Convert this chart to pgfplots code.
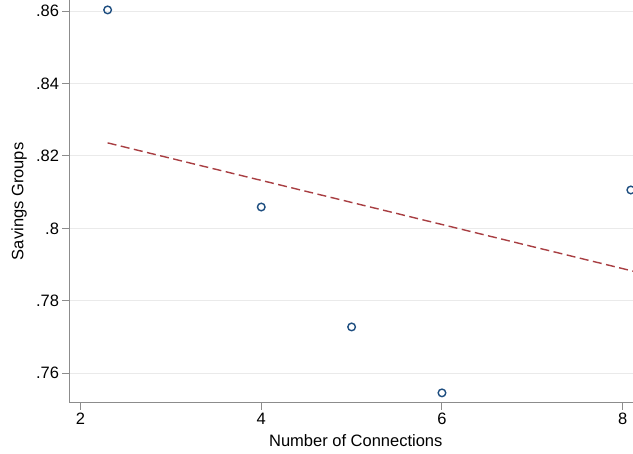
\documentclass[border=0pt]{standalone}
\usepackage{pgfplots}
\pgfplotsset{compat=1.18}
\usetikzlibrary{calc}
\usepackage{fontspec}
\setmainfont{Liberation Sans}
\definecolor{statanavy}{RGB}{30,78,128}
\definecolor{statamaroon}{RGB}{168,62,66}
\definecolor{axgray}{RGB}{140,140,140}
\definecolor{gridgray}{RGB}{234,234,234}
\begin{document}
\begin{tikzpicture}
\begin{axis}[
 scale only axis, width=563.5pt, height=402.7pt,
 xmin=1.878, xmax=8.114, ymin=0.75189, ymax=0.86304,
 axis x line*=bottom, axis y line*=left,
 axis line style={-, axgray, line width=1pt},
 xtick={2,4,6,8}, ytick={0.76,0.78,0.80,0.82,0.84,0.86},
 yticklabels={.76,.78,.8,.82,.84,.86},
 tick align=outside, major tick length=7pt,
 tick style={axgray, line width=1pt},
 ymajorgrids, grid style={gridgray, line width=1pt},
 /pgf/number format/assume math mode=true,
 ticklabel style={font=\fontsize{16.5}{19}\selectfont},
 label style={font=\fontsize{16.5}{19}\selectfont},
 xlabel={Number of Connections}, ylabel={Savings Groups},
 xlabel style={at={(axis description cs:0.508,0)}, anchor=center, yshift=-38.3pt},
 ylabel style={at={(axis description cs:-0.0896,0.5)}, anchor=center},
 clip mode=individual,
]
\addplot[statamaroon, line width=1.4pt, dash pattern=on 9pt off 4.5pt] coordinates {(2.30,0.8236) (8.114,0.7882)};
\addplot[only marks, mark=o, mark size=3.8pt, mark options={statanavy, line width=1.4pt}] coordinates {
(2.30,0.8603) (4.00,0.8059) (5.00,0.7728) (6.00,0.7546) (8.09,0.8106)};
\end{axis}
\pgfresetboundingbox
\path[use as bounding box] ($(current axis.south west)+(-69.5pt,-51.3pt)$) rectangle (current axis.north east);
\end{tikzpicture}
\end{document}
